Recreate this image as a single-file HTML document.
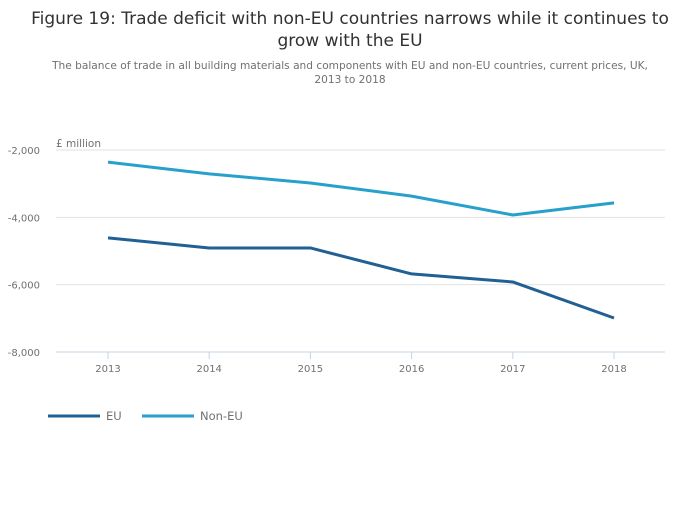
<!DOCTYPE html>
<html><head><meta charset="utf-8"><style>
body{margin:0;background:#fff;font-family:"DejaVu Sans",sans-serif}
svg text{font-family:"DejaVu Sans",sans-serif}
</style></head><body>
<svg width="700" height="502">
<text x="350" y="24" text-anchor="middle" font-size="17" fill="#323132">Figure 19: Trade deficit with non-EU countries narrows while it continues to</text>
<text x="350" y="46" text-anchor="middle" font-size="17" fill="#323132">grow with the EU</text>
<text x="350" y="69" text-anchor="middle" font-size="10.6" fill="#707070">The balance of trade in all building materials and components with EU and non-EU countries, current prices, UK,</text>
<text x="350" y="83" text-anchor="middle" font-size="10.6" fill="#707070">2013 to 2018</text>
<text x="56" y="147" font-size="10.5" fill="#707070">£ million</text>
<g id="grid"></g><g id="xa"></g><g id="lines"></g>
<g>
<line x1="48" y1="416" x2="100" y2="416" stroke="#206095" stroke-width="3"/>
<text x="106" y="420" font-size="11.5" fill="#707070">EU</text>
<line x1="142" y1="416" x2="194" y2="416" stroke="#27a0cc" stroke-width="3"/>
<text x="200" y="420" font-size="11.5" fill="#707070">Non-EU</text>
</g>
</svg>
<script>
const years=["2013","2014","2015","2016","2017","2018"];
const euValues=[-4610,-4910,-4910,-5680,-5920,-6990];
const nonEuValues=[-2360,-2710,-2980,-3370,-3930,-3570];
const yTicks=[-2000,-4000,-6000,-8000];
const yTickLabels=["-2,000","-4,000","-6,000","-8,000"];
const NS="http://www.w3.org/2000/svg";
const y=v=>150+(-2000-v)/6000*202;
const x=i=>108+i*101.2;
function mk(t,a,p){const e=document.createElementNS(NS,t);for(const k in a)e.setAttribute(k,a[k]);p.appendChild(e);return e;}
const g=document.getElementById('grid');
yTicks.forEach((v,i)=>{
 const l=mk('line',{x1:56,x2:665,y1:y(v),y2:y(v),stroke:i==yTicks.length-1?'#c4d3e6':'#e2e2e2'},g);
 
 
 const t=mk('text',{x:40,y:y(v)+4,'text-anchor':'end','font-size':'10','fill':'#707070'},g);
 t.textContent=yTickLabels[i];
 
 
});
const xa=document.getElementById('xa');
years.forEach((yr,i)=>{
 const l=mk('line',{x1:x(i),x2:x(i),y1:y(-8000),y2:y(-8000)+7,stroke:'#c4d3e6'},xa);
 
 
 const t=mk('text',{x:x(i),y:372,'text-anchor':'middle','font-size':'10','fill':'#707070'},xa);
 t.textContent=yr;
 
 
});
const lg=document.getElementById('lines');
[[euValues,'#206095','eu-line'],[nonEuValues,'#27a0cc','non-eu-line']].forEach(([vals,c,n])=>{
 const p=mk('polyline',{points:vals.map((v,i)=>x(i)+','+y(v)).join(' '),fill:'none',stroke:c,'stroke-width':3,'stroke-linejoin':'round'},lg);
 
 
});
</script>
</body></html>
